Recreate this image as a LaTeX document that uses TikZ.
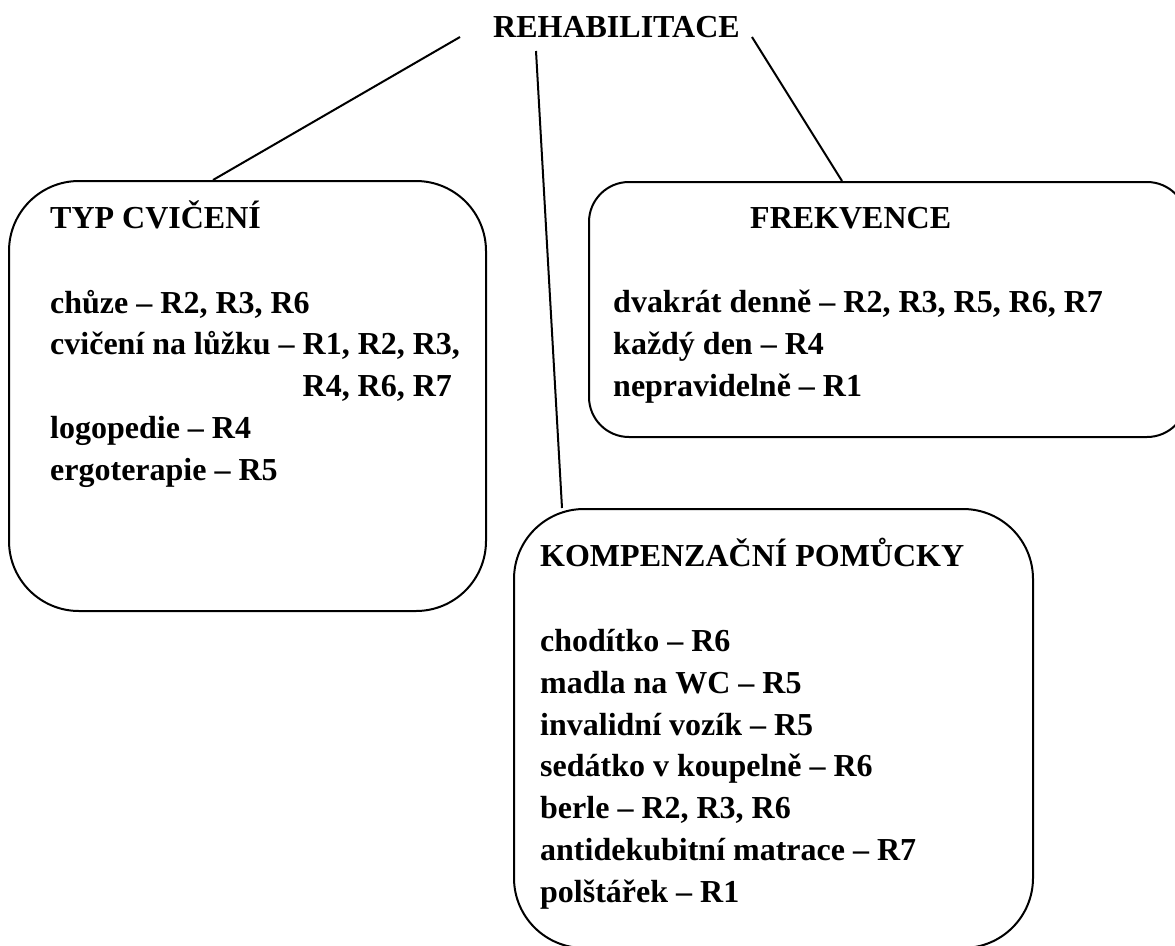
\documentclass[tikz,border=0pt]{standalone}
\usepackage{fontspec}
\setmainfont{Liberation Serif}
\usetikzlibrary{positioning,calc}

\tikzset{
  box/.style={draw, line width=2pt, rounded corners=#1, inner sep=0pt, anchor=north west},
  head/.style={anchor=base west, inner sep=0pt, font=\fontsize{32}{41.7}\selectfont\bfseries},
  items/.style={head, align=left},
  link/.style={line width=2pt},
}

\begin{document}
\begin{tikzpicture}[x=1pt,y=-1pt]
    \useasboundingbox (0,0) rectangle (1175,945);
    \clip (0,0) rectangle (1175,945);
    \fill[white] (0,0) rectangle (1175,945);

    % the three boxes
    \node[box=70pt, minimum width=477pt, minimum height=430pt] (typ)  at (8,180)   {};
    \node[box=40pt, minimum width=598pt, minimum height=255pt] (frek) at (588,181) {};
    \node[box=70pt, minimum width=519pt, minimum height=439pt] (komp) at (513,508) {};

    % title
    \node[head] (rehab) at (493,37) {REHABILITACE};

    % texts (items are anchored at the baseline of their last line)
    \node[head]  (typh)  at (50,228)  {TYP CVIČENÍ};
    \node[items] (typl)  at (50,480)  {chůze – R2, R3, R6\\
                                       cvičení na lůžku – R1, R2, R3,\\
                                       \hphantom{cvičení na lůžku – }R4, R6, R7\\
                                       logopedie – R4\\
                                       ergoterapie – R5};
    \node[head]  (frekh) at (750,228) {FREKVENCE};
    \node[items] (frekl) at (613,396) {dvakrát denně – R2, R3, R5, R6, R7\\
                                       každý den – R4\\
                                       nepravidelně – R1};
    \node[head]  (komph) at (540,566) {KOMPENZAČNÍ POMŮCKY};
    \node[items] (kompl) at (540,902) {chodítko – R6\\
                                       madla na WC – R5\\
                                       invalidní vozík – R5\\
                                       sedátko v koupelně – R6\\
                                       berle – R2, R3, R6\\
                                       antidekubitní matrace – R7\\
                                       polštářek – R1};

    % connectors
    \coordinate (r1) at ($(rehab.base west)+(-33,0)$);
    \coordinate (r2) at ($(rehab.base west)+(43,14)$);
    \coordinate (r3) at ($(rehab.base east)+(12,0)$);
    \draw[link] (r1) -- ($(typ.north west)+(205,0)$);
    \draw[link] (r2) -- ($(komp.north west)+(49,0)$);
    \draw[link] (r3) -- ($(frek.north west)+(254,0)$);
\end{tikzpicture}
\end{document}
